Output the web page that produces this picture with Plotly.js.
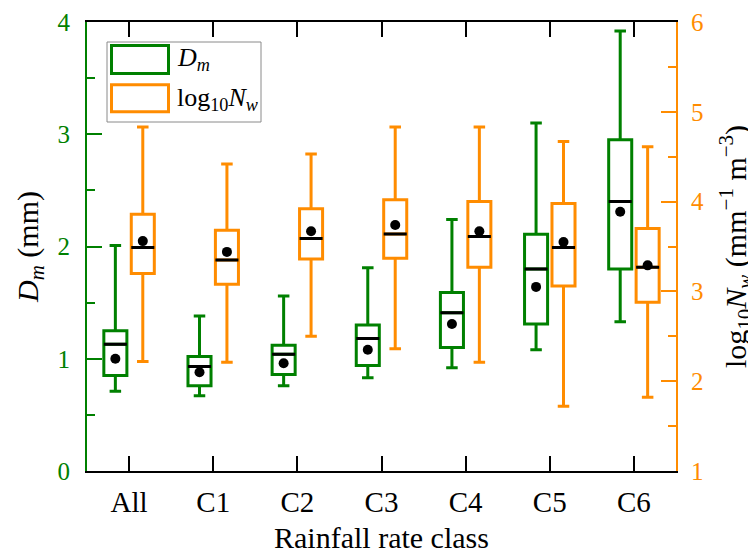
<!DOCTYPE html>
<html><head><meta charset="utf-8">
<script src="https://cdn.plot.ly/plotly-3.0.1.min.js"></script>
<style>html,body{margin:0;padding:0;background:#fff}</style>
</head><body><div id="chart" style="width:748px;height:554px"></div>
<script>
const categories = ['All','C1','C2','C3','C4','C5','C6'];

const dmLower  = [0.71,0.67,0.76,0.83,0.92,1.08,1.33];
const dmQ1     = [0.85,0.76,0.86,0.94,1.10,1.31,1.80];
const dmMedian = [1.13,0.93,1.04,1.18,1.41,1.80,2.40];
const dmQ3     = [1.25,1.02,1.12,1.30,1.59,2.11,2.95];
const dmUpper  = [2.01,1.38,1.56,1.81,2.24,3.10,3.92];
const dmMean   = [1.00,0.88,0.96,1.08,1.31,1.64,2.31];

const nwLower  = [2.22,2.21,2.50,2.36,2.21,1.72,1.82];
const nwQ1     = [3.20,3.08,3.36,3.37,3.27,3.06,2.88];
const nwMedian = [3.49,3.35,3.59,3.64,3.61,3.49,3.27];
const nwQ3     = [3.86,3.68,3.92,4.02,4.00,3.98,3.70];
const nwUpper  = [4.83,4.42,4.53,4.83,4.83,4.67,4.61];
const nwMean   = [3.56,3.44,3.67,3.74,3.67,3.55,3.29];

const dmYTicks = [0,1,2,3,4];
const nwYTicks = [1,2,3,4,5,6];

const green = '#008000';
const orange = '#ff8c00';
const serif = 'Liberation Serif';
const clear = 'rgba(0,0,0,0)';

function boxTrace(lower,q1,med,q3,upper,color,yaxis,group){
  return {type:'box', x:categories, lowerfence:lower, q1:q1, median:med, q3:q3, upperfence:upper,
    yaxis:yaxis, offsetgroup:group, line:{color:color,width:3}, fillcolor:clear,
    whiskerwidth:0.5, boxpoints:false, hoverinfo:'skip'};
}
function medianTrace(med,yaxis,group){
  return {type:'box', x:categories, y:med, yaxis:yaxis, offsetgroup:group,
    line:{color:'black',width:3}, fillcolor:clear, whiskerwidth:0, boxpoints:false, hoverinfo:'skip'};
}
function meanTrace(mean,yaxis,group){
  return {type:'box', x:categories, y:mean, yaxis:yaxis, offsetgroup:group,
    line:{color:clear,width:0}, fillcolor:clear, boxpoints:'all', jitter:0, pointpos:0,
    marker:{color:'black',size:10}, hoverinfo:'skip'};
}

const data = [
  boxTrace(dmLower,dmQ1,dmMedian,dmQ3,dmUpper,green,'y','dm'),
  medianTrace(dmMedian,'y','dm'),
  meanTrace(dmMean,'y','dm'),
  boxTrace(nwLower,nwQ1,nwMedian,nwQ3,nwUpper,orange,'y2','nw'),
  medianTrace(nwMedian,'y2','nw'),
  meanTrace(nwMean,'y2','nw')
];

// plot-area pixel helpers for the hand-drawn legend and right title
const L=87, R=676, T=22, B=471;
const px = v => (v-L)/(R-L);
const py = v => (B-v)/(B-T);

const layout = {
  width:748, height:554,
  margin:{l:L, r:748-R, t:T, b:554-B, pad:0},
  paper_bgcolor:'white', plot_bgcolor:'white',
  showlegend:false,
  boxmode:'group', boxgap:0.348, boxgroupgap:0.16,
  font:{family:serif, size:24, color:'black'},
  xaxis:{type:'category', range:[-0.5,6.5], showline:true, linecolor:'black', linewidth:2,
    mirror:'ticks', ticks:'inside', ticklen:15, tickwidth:2, tickcolor:'black',
    tickfont:{family:serif, size:29, color:'black'}, ticklabelstandoff:4,
    showgrid:false, zeroline:false, automargin:false,
    title:{text:'Rainfall rate class', font:{family:serif, size:30, color:'black'}, standoff:10}},
  yaxis:{range:[0,4], tickvals:dmYTicks, showline:true, linecolor:green, linewidth:2,
    ticks:'inside', ticklen:15, tickwidth:2, tickcolor:green,
    tickfont:{family:serif, size:25, color:green}, ticklabelstandoff:10,
    minor:{ticks:'inside', ticklen:8, tickwidth:2, tickcolor:green, dtick:0.5, tick0:0, showgrid:false},
    showgrid:false, zeroline:false, automargin:false,
    title:{text:'<i>D</i><sub><i>m</i></sub> (mm)', font:{family:serif, size:30, color:'black'}, standoff:10}},
  yaxis2:{overlaying:'y', side:'right', range:[1,6], tickvals:nwYTicks, showline:true,
    linecolor:orange, linewidth:2, ticks:'inside', ticklen:15, tickwidth:2, tickcolor:orange,
    tickfont:{family:serif, size:25, color:orange}, ticklabelstandoff:8,
    minor:{ticks:'inside', ticklen:8, tickwidth:2, tickcolor:orange, dtick:0.5, tick0:1, showgrid:false},
    showgrid:false, zeroline:false, automargin:false},
  shapes:[
    {type:'rect', xref:'paper', yref:'paper', x0:px(107), x1:px(261), y0:py(42), y1:py(122),
      line:{color:'#8a8a8a', width:1}, fillcolor:'white', layer:'above'},
    {type:'rect', xref:'paper', yref:'paper', x0:px(111.5), x1:px(168.5), y0:py(45.5), y1:py(73.5),
      line:{color:green, width:3}, fillcolor:clear, layer:'above'},
    {type:'rect', xref:'paper', yref:'paper', x0:px(111.5), x1:px(168.5), y0:py(84.8), y1:py(111.8),
      line:{color:orange, width:3}, fillcolor:clear, layer:'above'}
  ],
  annotations:[
    {xref:'paper', yref:'paper', x:px(175), y:py(59), xanchor:'left', yanchor:'middle', showarrow:false,
      text:'<i>D</i><sub><i>m</i></sub>', font:{size:26, color:'black', family:serif}},
    {xref:'paper', yref:'paper', x:px(175), y:py(99), xanchor:'left', yanchor:'middle', showarrow:false,
      text:'log<sub>10</sub><i>N</i><sub><i>w</i></sub>', font:{size:26, color:'black', family:serif}},
    {xref:'paper', yref:'paper', x:px(735), y:py(247), xanchor:'center', yanchor:'middle', showarrow:false,
      textangle:-90,
      text:'log<sub>10</sub><i>N</i><sub><i>w</i></sub> (mm<sup>−1</sup> m<sup>−3</sup>)',
      font:{size:30, color:'black', family:serif}}
  ]
};

Plotly.newPlot('chart', data, layout, {staticPlot:true, displayModeBar:false});
</script>
</body></html>
